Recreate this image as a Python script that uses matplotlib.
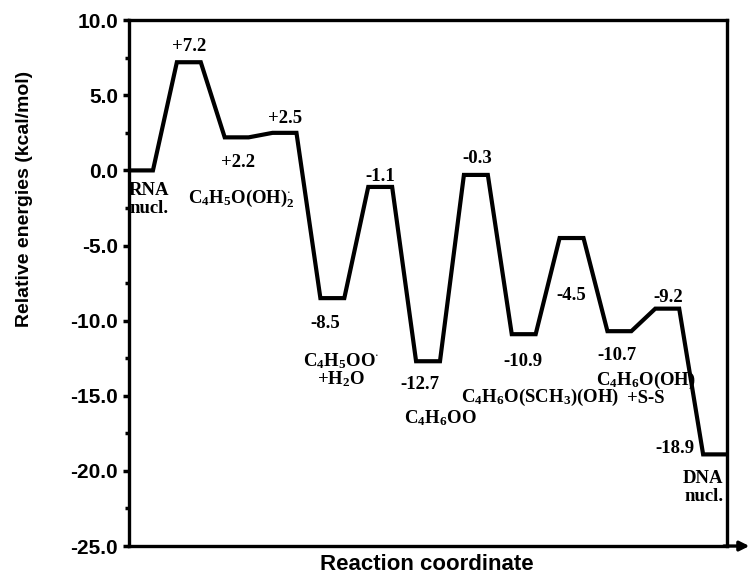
import numpy as np
import matplotlib
matplotlib.use('Agg')
import matplotlib.pyplot as plt

plt.rcParams['mathtext.fontset'] = 'custom'
plt.rcParams['mathtext.rm'] = 'Liberation Serif:bold'
plt.rcParams['mathtext.it'] = 'Liberation Serif:bold'
plt.rcParams['mathtext.bf'] = 'Liberation Serif:bold'

# energy levels along the reaction path (kcal/mol)
energies = [0.0, 7.2, 2.2, 2.5, -8.5, -1.1, -12.7, -0.3, -10.9, -4.5, -10.7, -9.2, -18.9]
value_labels = ['', '+7.2', '+2.2', '+2.5', '-8.5', '-1.1', '-12.7', '-0.3',
                '-10.9', '-4.5', '-10.7', '-9.2', '-18.9']
species = ['RNA\nnucl.', r'C$_4$H$_5$O(OH)$_2^{\cdot}$', r'C$_4$H$_5$OO$^{\cdot}$' + '\n' + r'+H$_2$O',
           r'C$_4$H$_6$OO', r'C$_4$H$_6$O(SCH$_3$)(OH)', r'C$_4$H$_6$O(OH)' + '\n' + '+S-S', 'DNA\nnucl.']
yticks = [10.0, 5.0, 0.0, -5.0, -10.0, -15.0, -20.0, -25.0]

# each level is a plateau one unit wide, followed by a one unit transition
x = np.arange(2 * len(energies))
y = np.repeat(energies, 2)

fig = plt.figure(figsize=(7.51, 5.76), dpi=100)
ax = fig.add_axes([0.1718, 0.052, 0.7963, 0.913])
ax.plot(x, y, color='black', lw=3.0, solid_joinstyle='miter')
ax.set_xlim(0, 25)
ax.set_ylim(-25, 10)

ax.set_yticks(yticks)
ax.set_yticklabels(['%.1f' % v for v in yticks], fontsize=15, fontweight='bold',
                   family='Liberation Sans')
ax.set_yticks(np.arange(-22.5, 10, 5), minor=True)
ax.tick_params(axis='y', which='major', direction='out', length=4, width=2.5, pad=4)
ax.tick_params(axis='y', which='minor', direction='out', length=3, width=2.5)
ax.set_xticks([])
for s in ax.spines.values():
    s.set_linewidth(2.4)

ax.set_ylabel('Relative energies (kcal/mol)', fontsize=14, fontweight='bold',
              family='Liberation Sans')
ax.yaxis.set_label_coords(-0.16, 0.66)
ax.set_xlabel('Reaction coordinate', fontsize=16, fontweight='bold', family='Liberation Sans')
ax.xaxis.set_label_coords(0.498, -0.016)

# arrow on the reaction coordinate axis
ax.annotate('', xy=(1.042, 0), xytext=(0.99, 0), xycoords='axes fraction',
            arrowprops=dict(arrowstyle='-|>', lw=2.4, color='black', mutation_scale=14),
            annotation_clip=False)

tkw = dict(fontsize=13.5, fontweight='bold', family='Liberation Serif', ha='center', va='center')

# value labels: (x, y) placement for each level
value_pos = [None, (2.51, 8.27), (4.56, 0.55), (6.52, 3.48), (8.19, -10.16), (10.49, -0.4),
             (12.17, -14.28), (14.55, 0.82), (16.45, -12.69), (18.5, -8.3), (20.4, -12.29),
             (22.53, -8.43), (22.83, -18.54)]
for lab, pos in zip(value_labels, value_pos):
    if pos is not None:
        ax.text(pos[0], pos[1], lab, **tkw)

# species names, one text per line
species_pos = [(0.0, -1.95, 'left'), (4.68, -1.84, 'center'), (8.85, -13.3, 'center'),
               (13.02, -16.48, 'center'), (17.2, -15.08, 'center'), (21.6, -14.55, 'center'),
               (24.85, -21.1, 'right')]
line_step = 1.2
for lab, (px, py, ha) in zip(species, species_pos):
    lines = lab.split('\n')
    top = py + line_step * (len(lines) - 1) / 2
    for k, line in enumerate(lines):
        kw = dict(tkw)
        kw['ha'] = ha
        ax.text(px, top - k * line_step, line, **kw)

fig.savefig('out.png', dpi=100)
